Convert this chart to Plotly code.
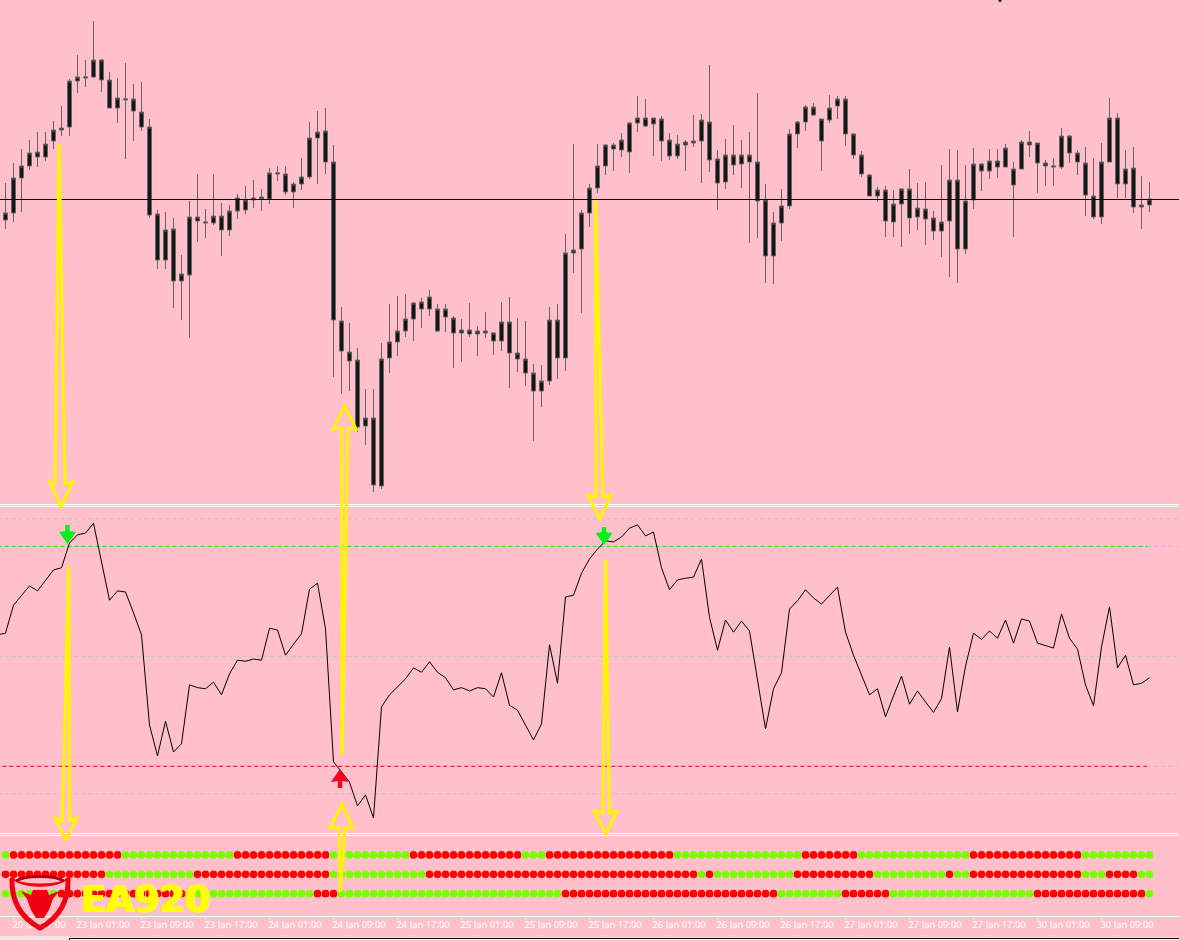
import plotly.graph_objects as go

W, H = 1179, 940

# ---- chart data (price in chart points, no scale is printed) ----
highs = [317,337,351,360,368,368,379,394,421,445,440,479,441,428,422,437,416,418,381,290,288,282,245,299,326,291,326,297,295,306,314,320,311,332,334,334,318,342,378,389,392,355,193,177,152,111,111,157,196,204,206,198,202,210,196,196,184,181,197,174,188,168,198,203,182,179,136,135,193,196,266,356,290,316,356,356,357,367,378,404,401,382,384,367,365,360,385,386,435,350,361,375,360,368,407,316,288,311,371,379,395,397,381,405,404,404,367,349,326,313,314,310,312,331,317,318,289,335,351,350,335,352,337,351,351,356,338,360,369,357,340,342,372,365,350,353,342,357,402,387,350,353,324,318]
lows = [271,278,288,330,333,339,351,364,364,407,413,422,408,392,377,341,359,369,282,231,231,192,180,162,258,262,275,244,264,281,286,292,289,296,319,305,292,310,321,316,326,123,106,109,68,55,8,11,127,144,163,159,172,184,168,168,132,138,163,144,162,145,149,112,128,114,59,93,115,121,129,227,187,273,307,325,329,343,327,368,373,344,339,340,341,329,353,317,328,290,311,325,312,257,262,217,216,259,291,352,369,384,329,377,381,354,341,323,304,298,263,263,253,266,270,255,260,243,223,217,246,291,309,321,322,333,263,331,343,307,314,314,331,337,325,284,281,276,338,302,302,287,271,288]
body_top = [287,322,334,347,348,356,370,372,419,423,423,440,440,420,402,401,401,388,373,286,270,271,226,283,283,278,284,284,289,302,300,302,303,327,327,326,316,323,362,368,369,338,179,148,140,82,82,141,158,169,181,197,198,203,191,191,182,170,170,169,169,167,178,178,147,141,127,119,180,180,247,250,287,312,334,355,355,360,377,382,382,382,381,360,356,358,359,380,378,341,345,345,345,345,338,300,277,294,366,378,393,393,381,392,401,401,366,345,325,310,310,296,311,311,292,291,282,278,320,320,299,336,336,339,339,352,331,358,358,357,337,334,364,364,347,337,304,338,382,382,331,332,295,301]
body_bottom = [280,287,322,334,343,343,359,370,373,419,422,423,420,392,392,400,389,373,285,240,240,219,219,225,279,277,277,270,270,289,290,300,301,301,326,308,308,316,323,362,338,180,149,139,73,74,15,14,142,158,169,181,191,191,169,183,167,167,166,166,167,159,159,147,141,127,109,109,119,142,142,247,251,287,312,334,351,350,348,377,374,376,359,344,344,355,357,359,340,317,318,335,336,338,299,244,244,277,294,366,378,385,359,380,394,366,345,326,304,304,279,278,296,282,283,281,269,269,279,251,251,300,329,329,333,333,315,331,355,337,334,333,333,347,338,305,283,283,338,316,316,293,293,295]
reference_price = 300.5

# RSI-style oscillator, first value is one bar before the left edge
rsi = [53.9,54.2,59.3,61.0,62.8,61.9,63.7,65.7,66.1,70.6,72.1,72.4,74.2,67.5,60.2,61.9,61.7,57.9,53.9,37.5,31.9,38.2,32.6,34.1,44.8,44.3,44.1,45.3,43.0,46.8,49.3,49.1,49.5,49.3,55.1,54.8,50.2,52.2,54.1,62.2,63.3,55.0,30.8,29.0,27.1,22.8,24.8,20.6,40.8,43.0,44.4,45.9,47.9,47.1,49.0,47.1,46.1,43.9,44.3,43.7,44.3,44.1,42.6,47.0,41.1,40.2,37.5,34.8,37.7,52.1,45.1,60.8,61.1,65.1,67.7,69.5,71.0,70.8,71.7,73.3,73.9,71.9,72.6,66.1,62.1,63.9,64.2,64.4,67.7,57.1,51.1,56.6,54.4,56.4,54.6,46.1,36.8,44.1,47.0,58.6,60.1,62.1,60.6,59.5,61.1,62.6,54.4,50.2,46.6,43.0,44.1,39.0,42.8,46.4,41.3,43.7,41.7,39.8,42.3,51.7,39.9,48.2,54.2,53.1,54.6,53.3,56.6,52.4,56.8,56.4,52.4,51.9,51.5,57.7,53.3,51.3,44.8,41.0,51.7,59.0,47.9,50.2,44.8,45.1,46.1]
level_high_outer, level_high, level_mid, level_low, level_low_outer = 75, 70, 50, 30, 25

# signal dot rows as runs of (state, number of bars)
row1_runs = [("G",1),("R",14),("G",14),("R",12),("G",10),("R",14),("G",3),("R",16),("G",16),("R",7),("G",14),("R",14),("G",9)]
row2_runs = [("R",13),("G",11),("R",17),("G",12),("R",34),("G",1),("R",1),("G",10),("R",10),("G",9),("R",1),("G",2),("R",14),("G",3),("R",4),("G",2)]
row3_runs = [("G",7),("R",16),("G",16),("R",3),("G",28),("R",27),("G",8),("R",6),("G",18),("R",14),("G",1)]

tick_bars = [1,9,17,25,33,41,49,57,65,73,81,89,97,105,113,121,129,137]
tick_labels = ["20 Jan 17:00","23 Jan 01:00","23 Jan 09:00","23 Jan 17:00","24 Jan 01:00","24 Jan 09:00",
               "24 Jan 17:00","25 Jan 01:00","25 Jan 09:00","25 Jan 17:00","26 Jan 01:00","26 Jan 09:00",
               "26 Jan 17:00","27 Jan 01:00","27 Jan 09:00","27 Jan 17:00","30 Jan 01:00","30 Jan 09:00"]

assert all(len(a) == 144 for a in (highs, lows, body_top, body_bottom))
assert len(rsi) == 145

# ---- styles ----
PINK = "#FFC0CB"
YELLOW = "#FFF500"
GREEN_DOT, RED_DOT = "#7CFC00", "#FF0000"
LOGO_RED = "#F00010"


def expand(runs):
    return [RED_DOT if s == "R" else GREEN_DOT for s, n in runs for _ in range(n)]


def px(x, y):
    return x / W, 1 - y / H


def path(points, close=True):
    s = " ".join(("M" if k == 0 else "L") + " %.5f %.5f" % px(*p) for k, p in enumerate(points))
    return s + (" Z" if close else "")


bars = list(range(144))
fig = go.Figure()

fig.add_trace(go.Candlestick(
    x=bars, open=body_bottom, high=highs, low=lows, close=body_top, yaxis="y", whiskerwidth=0,
    increasing=dict(line=dict(color="#636363", width=1), fillcolor="#141414"),
    decreasing=dict(line=dict(color="#636363", width=1), fillcolor="#141414"),
    showlegend=False, hoverinfo="skip"))
fig.add_trace(go.Scatter(x=[-1, 147], y=[reference_price] * 2, yaxis="y", mode="lines",
                         line=dict(color="black", width=1), showlegend=False, hoverinfo="skip"))

# oscillator levels
full_span, drawn_end = [-1, 147], 142.7
for lvl, col in [(level_high_outer, "#B9BFCB"), (level_mid, "#B5C8BC"), (level_low_outer, "#C0C4BE")]:
    fig.add_trace(go.Scatter(x=full_span, y=[lvl] * 2, yaxis="y2", mode="lines",
                             line=dict(color=col, width=1, dash="4px,3px"), showlegend=False, hoverinfo="skip"))
fig.add_trace(go.Scatter(x=[drawn_end, 147], y=[level_high] * 2, yaxis="y2", mode="lines",
                         line=dict(color="#D9B0DA", width=1, dash="4px,3px"), showlegend=False, hoverinfo="skip"))
fig.add_trace(go.Scatter(x=[drawn_end, 147], y=[level_low] * 2, yaxis="y2", mode="lines",
                         line=dict(color="#C0C4BE", width=1, dash="4px,3px"), showlegend=False, hoverinfo="skip"))
fig.add_trace(go.Scatter(x=[-1, drawn_end], y=[level_high] * 2, yaxis="y2", mode="lines",
                         line=dict(color="#00F000", width=1, dash="4px,3px"), showlegend=False, hoverinfo="skip"))
fig.add_trace(go.Scatter(x=[-0.4, drawn_end], y=[level_low] * 2, yaxis="y2", mode="lines",
                         line=dict(color="#F00000", width=1, dash="4px,3px"), showlegend=False, hoverinfo="skip"))
fig.add_trace(go.Scatter(x=list(range(-1, 144)), y=rsi, yaxis="y2", mode="lines",
                         line=dict(color="black", width=1), showlegend=False, hoverinfo="skip"))

# signal dots
for row, runs in zip((3, 2, 1), (row1_runs, row2_runs, row3_runs)):
    fig.add_trace(go.Scatter(x=bars, y=[row] * 144, yaxis="y3", mode="markers",
                             marker=dict(size=7.7, color=expand(runs), line=dict(width=0)),
                             showlegend=False, hoverinfo="skip"))

# ---- decoration drawn on the page ----
shapes = []
for y in (504.5, 506.5, 833.5, 835.5):
    shapes.append(dict(type="line", xref="paper", yref="paper", x0=0, x1=1, y0=1 - y / H, y1=1 - y / H,
                       line=dict(color="white", width=1), layer="above"))

# bottom frame of the window
shapes.append(dict(type="rect", xref="paper", yref="paper", x0=0, x1=1, y0=0, y1=1 - 937.5 / H,
                   fillcolor="white", line=dict(width=0), layer="above"))
shapes.append(dict(type="rect", xref="paper", yref="paper", x0=0, x1=69 / W, y0=0, y1=1 - 936 / H,
                   fillcolor="#F2E4E6", line=dict(width=0), layer="above"))
shapes.append(dict(type="path", path=path([(69.5, 940), (69.5, 938.5), (1179, 938.5)], close=False),
                   xref="paper", yref="paper", line=dict(color="black", width=1), layer="above"))
shapes.append(dict(type="path", path=path([(998, 0), (1002, 0), (1000.5, 2), (999.5, 2)]),
                   xref="paper", yref="paper", fillcolor="black", line=dict(width=0), layer="above"))

# signal arrows
green = "#08F018"
red = "#FF0020"
for cx, top, tip in [(67.5, 525, 544), (604, 527, 545)]:
    pts = [(cx - 2.2, top), (cx + 2.2, top), (cx + 2.2, tip - 13), (cx + 8.5, tip - 12), (cx, tip),
           (cx - 8.5, tip - 12), (cx - 2.2, tip - 13)]
    shapes.append(dict(type="path", path=path(pts), xref="paper", yref="paper", fillcolor=green,
                       line=dict(width=0), layer="above"))
pts = [(337.8, 788), (342.2, 788), (342.2, 781), (349, 782), (340, 769), (331, 782), (337.8, 781)]
shapes.append(dict(type="path", path=path(pts), xref="paper", yref="paper", fillcolor=red,
                   line=dict(width=0), layer="above"))

# yellow call-out arrows
callouts = [
    [(59, 143), (65, 484), (73, 482), (61, 507), (50, 482), (55, 484)],
    [(68.7, 566), (69.7, 821), (77, 818), (66, 840), (55, 818), (62.3, 821)],
    [(342, 755), (348, 428), (356, 429), (344.7, 406), (333, 429), (341.7, 428)],
    [(340.5, 892), (345, 828), (353, 828), (342, 804), (330, 828), (339, 828)],
    [(595.5, 200), (603, 497), (611, 495), (600, 519), (588, 495), (596, 497)],
    [(605.7, 560), (609.3, 813), (617, 811), (606, 834), (594, 811), (602.7, 813)],
]
for pts in callouts:
    shapes.append(dict(type="path", path=path(pts), xref="paper", yref="paper",
                       line=dict(color=YELLOW, width=3), layer="above"))

# logo
shield = "M %.5f %.5f C %.5f %.5f %.5f %.5f %.5f %.5f C %.5f %.5f %.5f %.5f %.5f %.5f" % (
    *px(12, 878), *px(11, 905), *px(25, 920), *px(40, 928), *px(55, 920), *px(69, 905), *px(68, 878))
shapes.append(dict(type="path", path=shield, xref="paper", yref="paper",
                   line=dict(color=LOGO_RED, width=5), layer="above"))
rim = "M %.5f %.5f C %.5f %.5f %.5f %.5f %.5f %.5f C %.5f %.5f %.5f %.5f %.5f %.5f" % (
    *px(12, 878), *px(18, 886), *px(62, 886), *px(68, 878), *px(60, 889), *px(20, 889), *px(12, 878))
shapes.append(dict(type="path", path=rim, xref="paper", yref="paper", fillcolor=LOGO_RED,
                   line=dict(color=LOGO_RED, width=1), layer="above"))
rim2 = "M %.5f %.5f C %.5f %.5f %.5f %.5f %.5f %.5f" % (
    *px(16, 881), *px(25, 875), *px(55, 875), *px(64, 881))
shapes.append(dict(type="path", path=rim2, xref="paper", yref="paper",
                   line=dict(color="#B00010", width=3), layer="above"))
head = [(21, 891), (31, 895), (33, 890), (47, 890), (49, 895), (59, 891), (53, 899), (49, 910), (44, 918), (36, 918), (31, 910), (27, 899)]
shapes.append(dict(type="path", path=path(head), xref="paper", yref="paper", fillcolor=LOGO_RED,
                   line=dict(width=0), layer="above"))

fig.update_layout(
    width=W, height=H, autosize=False, margin=dict(l=0, r=0, t=0, b=0),
    paper_bgcolor=PINK, plot_bgcolor=PINK, showlegend=False, shapes=shapes, hovermode=False,
    xaxis=dict(range=[-0.6875, 146.6875], anchor="y3", rangeslider=dict(visible=False), showgrid=False, zeroline=False,
               showline=True, linecolor="white", linewidth=1, ticks="outside", ticklen=3, tickcolor="white",
               tickvals=tick_bars, ticktext=tick_labels, ticklabelposition="outside right", ticklabelshift=-2,
               tickfont=dict(family="Noto Sans", size=9.4, color="white"), tickangle=0),
    yaxis=dict(domain=[1 - 505 / H, 1], range=[-5, 500], visible=False, fixedrange=True),
    yaxis2=dict(domain=[1 - 833 / H, 1 - 507 / H], range=[17.87, 77.15], visible=False, fixedrange=True),
    yaxis3=dict(domain=[1 - 915.7 / H, 1 - 836 / H], range=[-0.137, 3.98], visible=False, fixedrange=True),
    annotations=[dict(text="<b>EA920</b>", xref="paper", yref="paper", x=79 / W, y=1 - 899.5 / H,
                      xanchor="left", yanchor="middle", showarrow=False,
                      font=dict(family="DejaVu Sans", size=36.5, color="#FFFF00",
                                shadow="1px 0 0 #FFFF00, -1px 0 0 #FFFF00"))],
)

fig.write_html("out.html", config=dict(displayModeBar=False),
               post_script="document.body.style.margin='0';document.body.style.overflow='hidden';")
